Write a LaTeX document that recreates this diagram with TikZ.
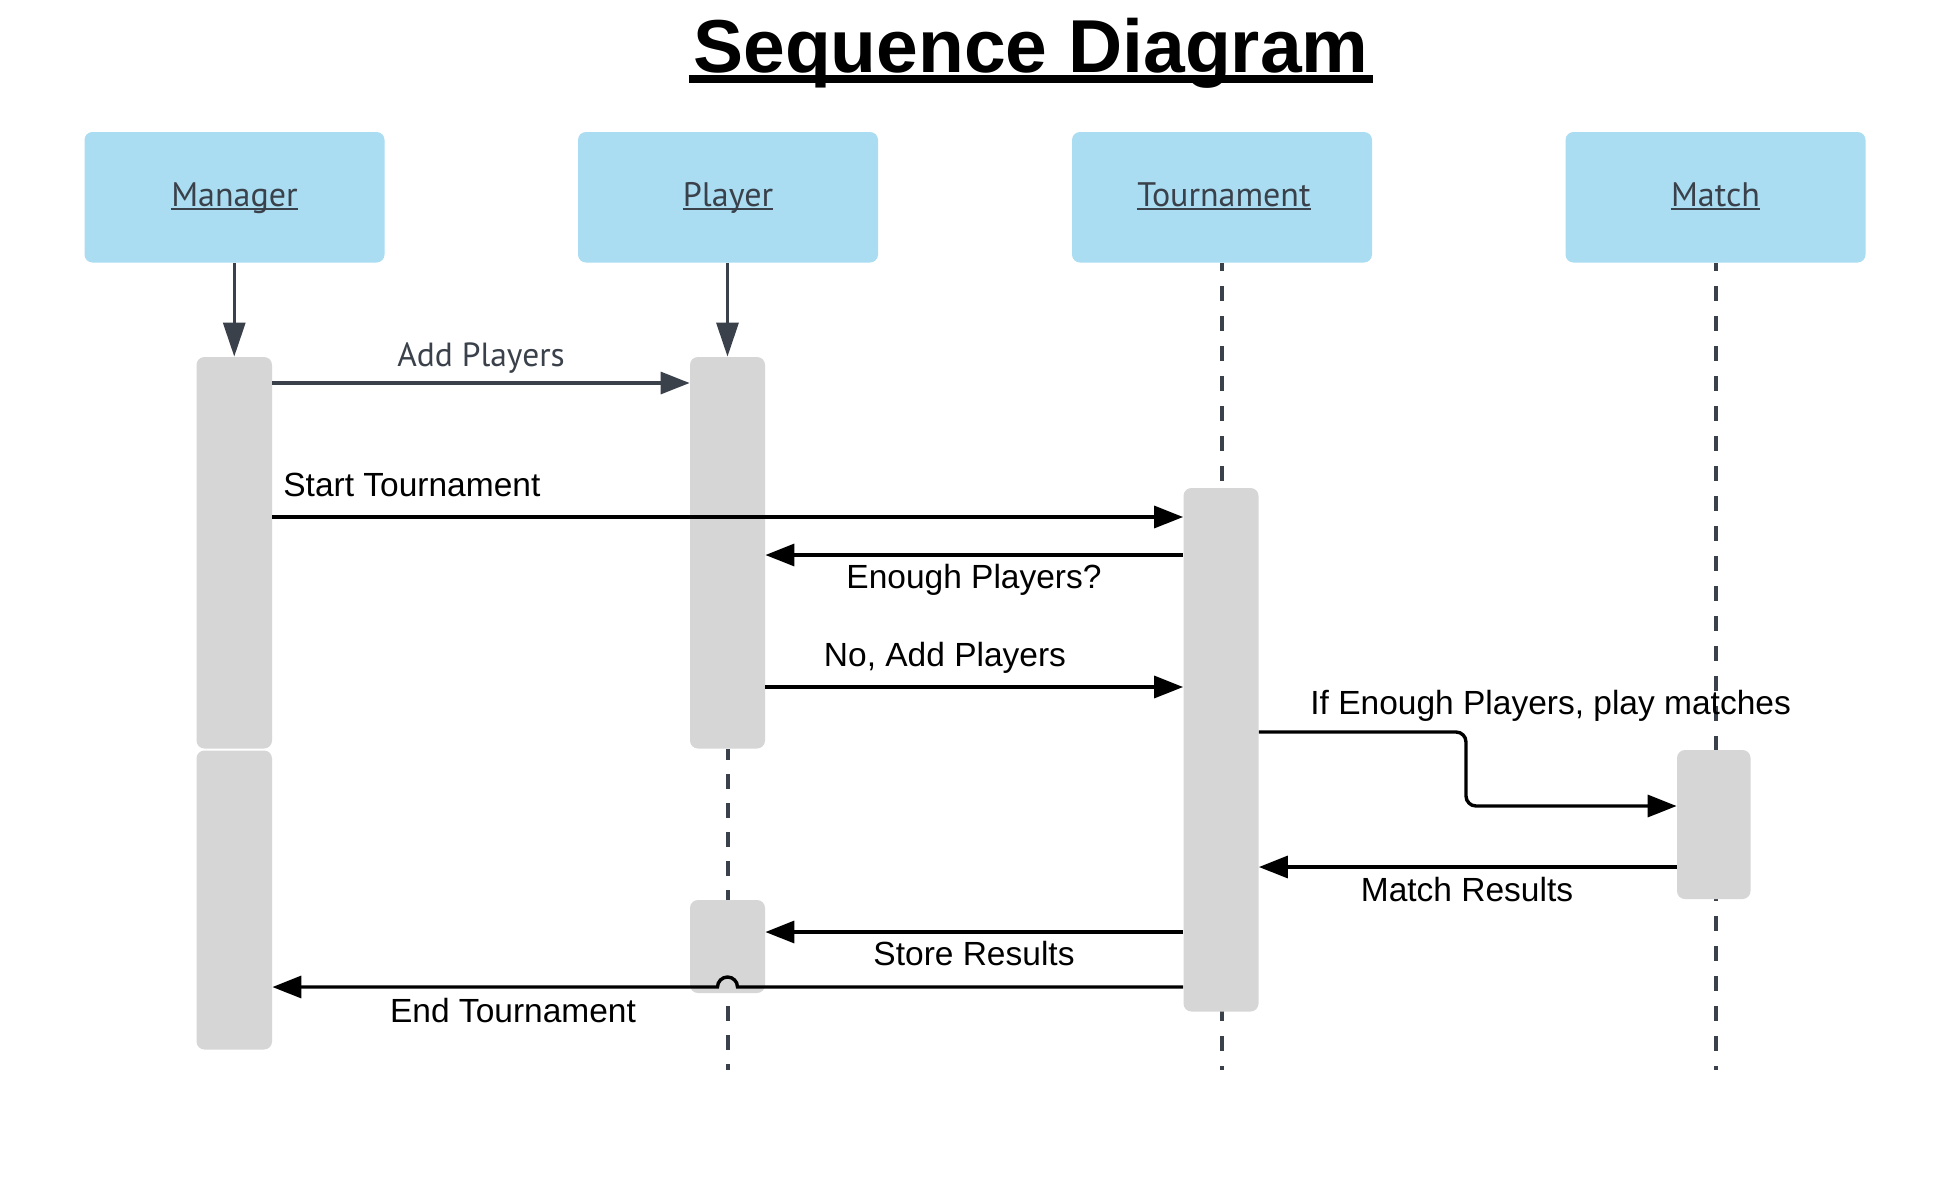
\documentclass[tikz,border=0pt]{standalone}
\usepackage{fontspec}
\setmainfont{Liberation Sans}
\newfontfamily\ptsans{PT Sans}
\usetikzlibrary{arrows.meta,fit}
\definecolor{slate}{HTML}{3A414A}
\definecolor{boxblue}{HTML}{AADDF2}
\definecolor{actgrey}{HTML}{D6D6D6}
\begin{document}
\begin{tikzpicture}[x=0.5pt,y=-0.5pt,
  objbox/.style={fill=boxblue, draw=none, rounded corners=4pt, inner sep=0pt},
  actbar/.style={fill=actgrey, draw=none, rounded corners=4pt, inner sep=0pt},
  boxtext/.style={font=\ptsans\fontsize{17}{20}\selectfont, text=slate, inner sep=0pt, anchor=base},
  boxul/.style={draw=slate, line width=1.3pt},
  slatelabel/.style={font=\ptsans\fontsize{16.75}{20}\selectfont, text=slate, inner sep=0pt},
  msglabel/.style={font=\fontsize{16.75}{20}\selectfont, text=black, inner sep=0pt},
  msg/.style={draw=black, line width=1.7pt, -{Triangle[length=14.5pt,width=11pt]}},
  msgslate/.style={draw=slate, line width=1.6pt, -{Triangle[length=14.5pt,width=11pt]}},
  lifearrow/.style={draw=slate, line width=1.6pt, -{Triangle[length=17pt,width=11pt]}},
  lifeline/.style={draw=slate, line width=2pt, dash pattern=on 7.5pt off 7.5pt}
]
\fill[white] (0,0) rectangle (1950,1200);
\useasboundingbox (0,0) rectangle (1950,1200);

% title
\node[anchor=base, inner sep=0pt, font=\fontsize{37.5}{45}\selectfont\bfseries] (title) at (1031,72) {Sequence Diagram};
\draw[line width=3.8pt] ([xshift=-2pt,yshift=-3.6pt]title.base west) -- ([xshift=2pt,yshift=-3.6pt]title.base east);

% object boxes
\node[objbox, fit={(84.5,132) (384.5,262.5)}] (mgr) {};
\node[objbox, fit={(578,132) (878,262.5)}] (ply) {};
\node[objbox, fit={(1072,132) (1372,262.5)}] (tour) {};
\node[objbox, fit={(1565.5,132) (1865.5,262.5)}] (mat) {};
\node[boxtext] (mgrlbl) at (mgr.center |- 0,206) {Manager};
\node[boxtext] (plylbl) at (ply.center |- 0,206) {Player};
\node[boxtext] (tourlbl) at ([xshift=1pt]tour.center |- 0,206) {Tournament\hspace{0.25em}};
\node[boxtext] (matlbl) at (mat.center |- 0,206) {Match};
\foreach \n in {mgrlbl,plylbl,tourlbl,matlbl}
  \draw[boxul] ([yshift=-1.4pt]\n.base west) -- ([yshift=-1.4pt]\n.base east);

% lifeline ends
\coordinate (pEnd) at (727.5,1069.5);
\coordinate (tEnd) at (1221.5,1069.5);
\coordinate (sEnd) at (1715.5,1069.5);
\coordinate (pTop) at (727.5,749);

% dashed lifelines (behind activations)
\draw[lifeline, dash pattern=on 7.5pt off 7pt, dash phase=2pt] (pTop) -- (pEnd);
\draw[lifeline, dash phase=3.5pt] (tour.south -| tEnd) -- (tEnd);
\draw[lifeline, dash phase=3.5pt] (mat.south -| sEnd) -- (sEnd);

% activation bars
\node[actbar, fit={(196.5,357) (272,748.5)}] (actM1) {};
\node[actbar, fit={(196.5,750.5) (272,1049.5)}] (actM2) {};
\node[actbar, fit={(690,357) (765,748.5)}] (actP1) {};
\node[actbar, fit={(690,900) (765,993)}] (actP2) {};
\node[actbar, fit={(1183.5,488) (1258.5,1011.5)}] (actT) {};
\node[actbar, fit={(1677,750) (1750.5,899)}] (actS) {};

% creation arrows
\draw[lifearrow] (mgr.south -| actM1.north) -- (actM1.north);
\draw[lifearrow] (ply.south -| actP1.north) -- (actP1.north);

% messages
\draw[msgslate] (actM1.east |- 0,383) -- (actP1.west |- 0,383);
\node[slatelabel, anchor=base] (l1) at (481,366) {Add Players};

\draw[msg] (actM1.east |- 0,517) -- (actT.west |- 0,517);
\node[msglabel, anchor=base west] (l2) at (283,496) {Start Tournament};

\draw[msg] (actT.west |- 0,555) -- (actP1.east |- 0,555);
\node[msglabel, anchor=base] (l3) at (974,588) {Enough Players?};

\draw[msg] (actP1.east |- 0,687) -- (actT.west |- 0,687);
\node[msglabel, anchor=base] (l4) at (945,666) {No, Add Players};

\draw[msg, rounded corners=5pt] (actT.east |- 0,732) -- (1466,732) -- (1466,806) -- (actS.west |- 0,806);
\node[msglabel, anchor=base west] (l5) at (1310,714) {If Enough Players, play matches};

\draw[msg] (actS.west |- 0,867) -- (actT.east |- 0,867);
\node[msglabel, anchor=base] (l6) at (1467,901) {Match Results};

\draw[msg] (actT.west |- 0,932) -- (actP2.east |- 0,932);
\node[msglabel, anchor=base] (l7) at (974,965) {Store Results};

\draw[msg] (actT.west |- 0,987) -- (737.5,987) arc[start angle=0, end angle=180, radius=5pt] -- (actM2.east |- 0,987);
\node[msglabel, anchor=base] (l8) at (513,1022) {End Tournament};
\end{tikzpicture}
\end{document}
